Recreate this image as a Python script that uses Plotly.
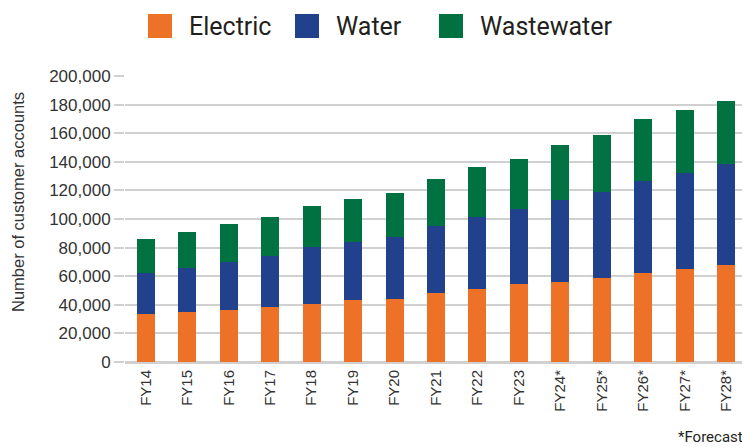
import plotly.graph_objects as go

categories = ["FY14", "FY15", "FY16", "FY17", "FY18", "FY19", "FY20", "FY21",
              "FY22", "FY23", "FY24*", "FY25*", "FY26*", "FY27*", "FY28*"]
electric = [33400, 34800, 36200, 38300, 40800, 43200, 43900, 48100,
            50900, 54400, 55800, 58600, 62300, 64900, 67700]
water = [28700, 31000, 33800, 35900, 39500, 40800, 43400, 47100,
         50400, 52500, 57600, 60400, 64200, 67200, 70900]
wastewater = [23800, 25000, 26400, 27100, 28700, 29900, 30800, 32700,
              35000, 35000, 38300, 39700, 43400, 44100, 43900]

series_names = ["Electric", "Water", "Wastewater"]
series_values = [electric, water, wastewater]
colors = ["#ED7126", "#22418C", "#007140"]

fig = go.Figure()
for name, vals, col in zip(series_names, series_values, colors):
    fig.add_trace(go.Bar(x=categories, y=vals, name=name, marker_color=col,
                         marker_line_width=0, width=0.435, showlegend=False))

# plot area in window pixels: x 125..747, y 76..362
PX0, PW, PY0, PH = 125, 622, 362, 286

def px(x):
    return (x - PX0) / PW

def py(y):
    return (PY0 - y) / PH

# manual legend (large square swatches)
legend_x = [148, 295, 439]
for lx, name, col in zip(legend_x, series_names, colors):
    fig.add_shape(type="rect", xref="paper", yref="paper",
                  x0=px(lx), x1=px(lx + 24), y0=py(38), y1=py(14),
                  fillcolor=col, line_width=0)
    fig.add_annotation(text=name, xref="paper", yref="paper",
                       x=px(lx + 39), y=py(26),
                       xanchor="left", yanchor="middle", showarrow=False,
                       font=dict(family="Roboto", size=25, color="#231F20"))

fig.add_annotation(text="Number of customer accounts", xref="paper", yref="paper",
                   x=px(18), y=py(202), textangle=-90,
                   xanchor="center", yanchor="middle", showarrow=False,
                   font=dict(family="Liberation Sans", size=16.5, color="#333333"))

fig.add_annotation(text="*Forecast", xref="paper", yref="paper",
                   x=px(745), y=py(437), xanchor="right", yanchor="middle",
                   showarrow=False,
                   font=dict(family="Roboto", size=15, color="#231F20"))

fig.update_layout(
    width=742, height=439,
    margin=dict(l=117, r=3, t=68, b=85),
    barmode="stack",
    plot_bgcolor="white", paper_bgcolor="white",
    showlegend=False,
    font=dict(family="Liberation Sans", color="#333333"),
)
fig.update_xaxes(tickangle=-90, tickfont=dict(size=15, color="#333333"),
                 showline=True, linecolor="#D0D0D0", linewidth=2,
                 ticks="", showgrid=False)
fig.update_yaxes(range=[0, 200000], dtick=20000, tickformat=",d",
                 showgrid=True, gridcolor="#D0D0D0", gridwidth=1.5,
                 ticks="outside", ticklen=10, tickcolor="#D0D0D0", tickwidth=1.5,
                 tickfont=dict(size=17, color="#333333"),
                 zeroline=True, zerolinecolor="#D0D0D0", zerolinewidth=2)

fig.write_html("out.html")
